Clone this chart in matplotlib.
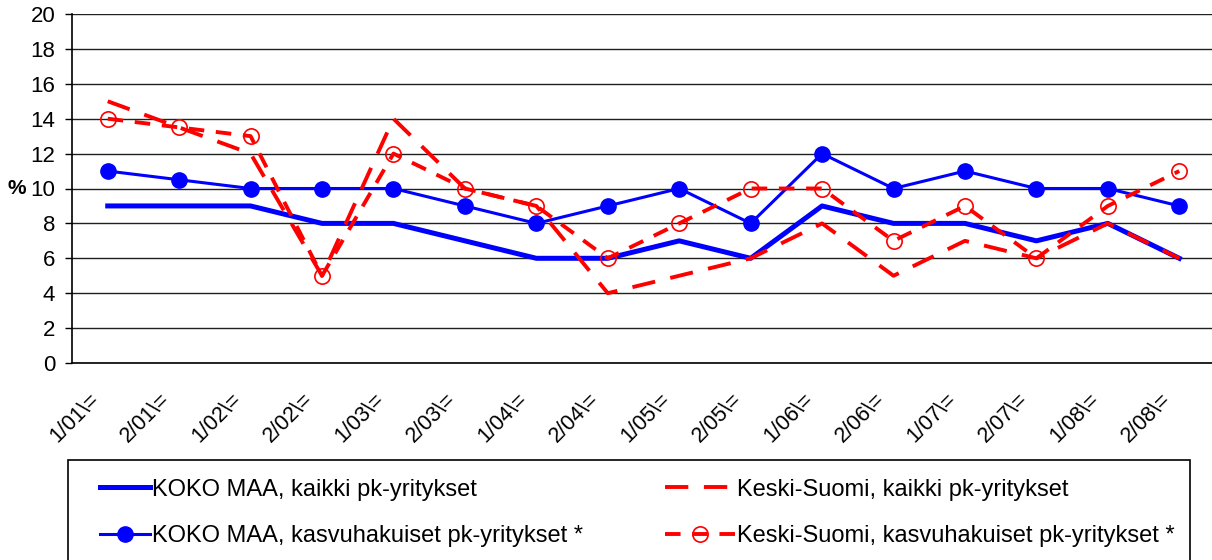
"""Pk-yritysten suhdannenäkymät: KOKO MAA vs Keski-Suomi."""

import matplotlib
matplotlib.use("Agg")
import matplotlib.pyplot as plt
import matplotlib.transforms as mtrans
from matplotlib.lines import Line2D
from matplotlib.patches import Rectangle

# data
periods = ["1/01\\=", "2/01\\=", "1/02\\=", "2/02\\=", "1/03\\=", "2/03\\=", "1/04\\=", "2/04\\=",
           "1/05\\=", "2/05\\=", "1/06\\=", "2/06\\=", "1/07\\=", "2/07\\=", "1/08\\=", "2/08\\="]
koko_kaikki = [9, 9, 9, 8, 8, 7, 6, 6, 7, 6, 9, 8, 8, 7, 8, 6]
koko_kasvu = [11, 10.5, 10, 10, 10, 9, 8, 9, 10, 8, 12, 10, 11, 10, 10, 9]
ks_kaikki = [15, 13.5, 12, 5, 14, 10, 9, 4, 5, 6, 8, 5, 7, 6, 8, 6]
ks_kasvu = [14, 13.5, 13, 5, 12, 10, 9, 6, 8, 10, 10, 7, 9, 6, 9, 11]

labels_koko = ["KOKO MAA, kaikki pk-yritykset",
               "KOKO MAA, kasvuhakuiset pk-yritykset *"]
labels_ks = ["Keski-Suomi, kaikki pk-yritykset",
             "Keski-Suomi, kasvuhakuiset pk-yritykset *"]

plt.rcParams["font.family"] = ["Liberation Sans", "DejaVu Sans"]

W, H = 1212, 560
fig = plt.figure(figsize=(W / 100, H / 100), dpi=100)
ax = fig.add_axes([72 / W, 1 - 363 / H, 1143 / W, 349 / H])

x = list(range(len(periods)))

# lines
ax.plot(x, koko_kaikki, color="#0000ff", lw=3.6, zorder=3)
ax.plot(x, koko_kasvu, color="#0000ff", lw=2.2, marker="o", ms=11, zorder=4)
ax.plot(x, ks_kaikki, color="#ff0000", lw=2.8, dashes=(6, 4), zorder=5)
ax.plot(x, ks_kasvu, color="#ff0000", lw=2.8, dashes=(4, 3), marker="o", ms=11,
        mfc="none", mec="#ff0000", mew=1.2, zorder=5)

# axes
ax.set_xlim(-0.5, len(periods) - 0.5)
ax.set_ylim(0, 20)
ax.set_yticks(range(0, 21, 2))
ax.yaxis.grid(True, color="#202020", lw=1)
ax.set_axisbelow(True)
for s in ["top", "right"]:
    ax.spines[s].set_visible(False)
ax.spines["left"].set_linewidth(1.2)
ax.spines["bottom"].set_linewidth(1.2)
ax.tick_params(axis="y", labelsize=16, length=5, width=1, pad=7)
ax.tick_params(axis="x", length=0, pad=24)
ax.set_xticks(x)
ax.set_xticklabels(periods, rotation=45, ha="right", va="center",
                   rotation_mode="anchor", fontsize=15.5)
off = mtrans.ScaledTranslation(-12 / 100, 0, fig.dpi_scale_trans)
for lab in ax.get_xticklabels():
    lab.set_transform(lab.get_transform() + off)

fig.text(8 / W, 1 - 189 / H, "%", fontsize=15, fontweight="bold", va="center", ha="left")

# legend box
fig.patches.append(Rectangle((68 / W, -0.05), 1122 / W, 1 - 460 / H + 0.05,
                             transform=fig.transFigure, fill=False,
                             edgecolor="black", lw=1.2))

h_koko = [Line2D([], [], color="#0000ff", lw=3.6),
          Line2D([], [], color="#0000ff", lw=2.2, marker="o", ms=11)]
h_ks = [Line2D([], [], color="#ff0000", lw=2.8, dashes=(6, 4)),
        Line2D([], [], color="#ff0000", lw=2.8, dashes=(4, 3), marker="o", ms=11,
               mfc="none", mec="#ff0000", mew=1.2)]

leg_kw = dict(loc="center left", fontsize=17, frameon=False, handletextpad=0.12,
              labelspacing=1.05, borderpad=0, borderaxespad=0)
leg1 = fig.legend(h_koko, labels_koko, bbox_to_anchor=(100 / W, 1 - 513 / H),
                  handlelength=2.1, **leg_kw)
leg2 = fig.legend(h_ks, labels_ks, bbox_to_anchor=(665 / W, 1 - 513 / H),
                  handlelength=2.95, **leg_kw)

fig.savefig("out.png", dpi=100)
